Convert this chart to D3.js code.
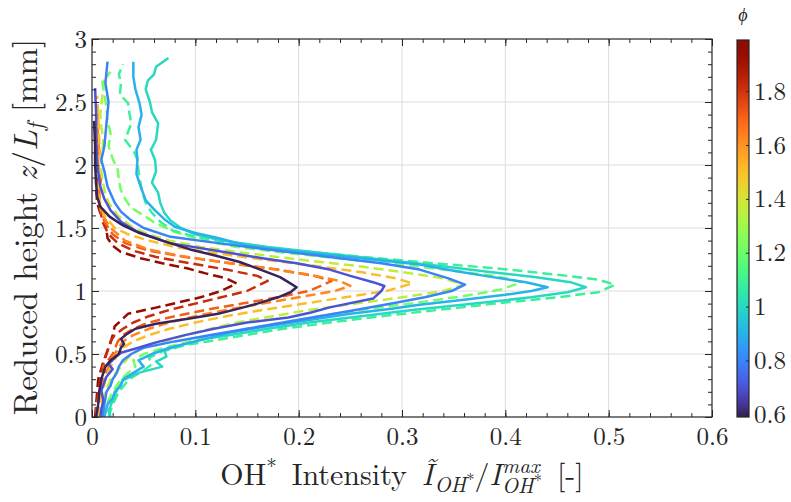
<!DOCTYPE html>
<html>
<head>
<meta charset="utf-8">
<script src="https://cdn.jsdelivr.net/npm/d3@7"></script>
<style>
  body { margin: 0; background: #fff; }
  svg text { white-space: pre; }
</style>
</head>
<body>
<svg id="chart" width="791" height="502"></svg>
<script>
// profiles: [z / L_f, normalised OH* intensity]
const prof060 = [[0,0.004],[0.1,0.006],[0.2,0.007],[0.3,0.009],[0.4,0.013],[0.45,0.018],[0.5,0.026],[0.55,0.028],[0.58,0.031],[0.62,0.028],[0.66,0.034],[0.7,0.042],[0.74,0.062],[0.78,0.093],[0.82,0.122],[0.86,0.142],[0.9,0.16],[0.95,0.18],[0.99,0.192],[1.03,0.198],[1.07,0.19],[1.11,0.182],[1.17,0.163],[1.23,0.143],[1.28,0.12],[1.33,0.095],[1.4,0.068],[1.46,0.046],[1.52,0.03],[1.59,0.017],[1.67,0.008],[1.75,0.005],[1.85,0.004],[2.0,0.003],[2.15,0.003],[2.35,0.002]];
const prof070 = [[0,0.008],[0.06,0.009],[0.13,0.011],[0.21,0.009],[0.32,0.014],[0.38,0.02],[0.42,0.016],[0.47,0.022],[0.51,0.028],[0.55,0.045],[0.59,0.061],[0.65,0.09],[0.7,0.118],[0.75,0.15],[0.79,0.19],[0.83,0.212],[0.87,0.23],[0.94,0.272],[1.0,0.28],[1.04,0.283],[1.07,0.272],[1.12,0.25],[1.17,0.23],[1.22,0.198],[1.26,0.165],[1.31,0.128],[1.38,0.075],[1.47,0.044],[1.55,0.028],[1.64,0.018],[1.73,0.012],[1.83,0.008],[2.0,0.005],[2.2,0.004],[2.4,0.004],[2.61,0.003]];
const prof080 = [[0,0.01],[0.1,0.012],[0.2,0.014],[0.25,0.018],[0.3,0.02],[0.35,0.024],[0.4,0.026],[0.45,0.03],[0.5,0.038],[0.55,0.05],[0.6,0.08],[0.65,0.115],[0.7,0.15],[0.75,0.185],[0.8,0.22],[0.85,0.255],[0.9,0.29],[0.95,0.322],[1.0,0.348],[1.05,0.361],[1.1,0.345],[1.17,0.317],[1.22,0.28],[1.28,0.22],[1.33,0.17],[1.38,0.122],[1.43,0.076],[1.5,0.05],[1.56,0.038],[1.63,0.028],[1.7,0.022],[1.83,0.015],[1.95,0.012],[2.04,0.009],[2.15,0.012],[2.33,0.014],[2.5,0.016],[2.65,0.013],[2.82,0.015]];
const prof090 = [[0,0.012],[0.1,0.015],[0.15,0.02],[0.2,0.022],[0.25,0.028],[0.3,0.03],[0.35,0.04],[0.4,0.05],[0.45,0.045],[0.5,0.058],[0.55,0.075],[0.6,0.1],[0.67,0.134],[0.72,0.17],[0.77,0.21],[0.82,0.25],[0.86,0.29],[0.89,0.317],[0.93,0.36],[0.97,0.4],[1.0,0.425],[1.03,0.441],[1.07,0.42],[1.12,0.38],[1.16,0.35],[1.21,0.317],[1.26,0.26],[1.31,0.2],[1.36,0.15],[1.42,0.122],[1.46,0.1],[1.51,0.08],[1.57,0.07],[1.64,0.061],[1.72,0.052],[1.83,0.047],[1.93,0.043],[2.04,0.044],[2.12,0.043],[2.2,0.047],[2.3,0.045],[2.4,0.048],[2.49,0.046],[2.6,0.042],[2.7,0.04],[2.82,0.04]];
const prof100 = [[0,0.018],[0.05,0.016],[0.13,0.02],[0.21,0.024],[0.29,0.03],[0.35,0.045],[0.4,0.068],[0.44,0.062],[0.48,0.072],[0.53,0.07],[0.58,0.09],[0.62,0.11],[0.65,0.134],[0.7,0.17],[0.75,0.21],[0.8,0.26],[0.85,0.31],[0.9,0.37],[0.95,0.425],[0.99,0.46],[1.03,0.478],[1.07,0.463],[1.11,0.43],[1.15,0.385],[1.2,0.335],[1.25,0.28],[1.3,0.225],[1.35,0.17],[1.4,0.125],[1.45,0.1],[1.5,0.086],[1.56,0.076],[1.62,0.07],[1.7,0.066],[1.78,0.064],[1.86,0.058],[1.95,0.062],[2.04,0.061],[2.12,0.057],[2.2,0.062],[2.33,0.064],[2.42,0.058],[2.5,0.056],[2.6,0.052],[2.67,0.054],[2.72,0.06],[2.78,0.062],[2.85,0.074]];
const prof109 = [[0,0.016],[0.1,0.02],[0.2,0.026],[0.3,0.036],[0.37,0.05],[0.42,0.058],[0.47,0.055],[0.52,0.068],[0.57,0.09],[0.6,0.112],[0.63,0.134],[0.7,0.185],[0.75,0.23],[0.8,0.28],[0.85,0.335],[0.9,0.39],[0.95,0.45],[0.99,0.49],[1.05,0.506],[1.09,0.49],[1.13,0.45],[1.18,0.39],[1.23,0.317],[1.28,0.25],[1.33,0.185],[1.38,0.135],[1.43,0.1],[1.48,0.078],[1.55,0.066],[1.62,0.058],[1.7,0.052],[1.75,0.05],[1.85,0.047],[1.95,0.045],[2.04,0.044],[2.1,0.041],[2.2,0.032],[2.33,0.038],[2.42,0.036],[2.49,0.035],[2.56,0.027],[2.65,0.028],[2.72,0.026],[2.8,0.03]];
const prof122 = [[0,0.01],[0.1,0.014],[0.2,0.02],[0.3,0.028],[0.35,0.035],[0.4,0.042],[0.45,0.04],[0.5,0.05],[0.55,0.07],[0.6,0.095],[0.65,0.12],[0.7,0.15],[0.75,0.185],[0.8,0.22],[0.85,0.26],[0.91,0.317],[0.96,0.36],[1.01,0.395],[1.07,0.416],[1.12,0.39],[1.16,0.35],[1.2,0.31],[1.25,0.25],[1.3,0.19],[1.35,0.14],[1.4,0.108],[1.47,0.08],[1.54,0.061],[1.6,0.05],[1.66,0.038],[1.73,0.032],[1.8,0.028],[1.88,0.026],[1.96,0.025],[2.05,0.02],[2.15,0.016],[2.25,0.018],[2.35,0.015],[2.46,0.014],[2.56,0.012],[2.66,0.01],[2.74,0.018]];
const prof136 = [[0,0.008],[0.1,0.01],[0.2,0.013],[0.3,0.018],[0.4,0.028],[0.5,0.038],[0.55,0.05],[0.6,0.07],[0.65,0.09],[0.7,0.115],[0.75,0.14],[0.8,0.175],[0.85,0.21],[0.9,0.255],[0.95,0.3],[1.0,0.34],[1.05,0.36],[1.1,0.34],[1.15,0.3],[1.2,0.255],[1.25,0.2],[1.3,0.15],[1.35,0.105],[1.4,0.075],[1.45,0.055],[1.5,0.04],[1.6,0.025],[1.7,0.016],[1.8,0.012],[1.9,0.01],[2.0,0.008],[2.1,0.01],[2.2,0.011],[2.3,0.009],[2.4,0.008],[2.55,0.01],[2.68,0.012]];
const prof151 = [[0,0.006],[0.1,0.008],[0.2,0.01],[0.3,0.013],[0.4,0.018],[0.5,0.025],[0.55,0.03],[0.6,0.04],[0.65,0.055],[0.7,0.075],[0.75,0.1],[0.8,0.13],[0.85,0.165],[0.9,0.205],[0.95,0.245],[1.0,0.285],[1.06,0.31],[1.1,0.295],[1.15,0.26],[1.2,0.215],[1.25,0.165],[1.3,0.12],[1.35,0.08],[1.4,0.055],[1.45,0.035],[1.5,0.022],[1.6,0.012],[1.7,0.008],[1.8,0.006],[1.9,0.007],[2.0,0.006],[2.1,0.008],[2.2,0.007],[2.4,0.006],[2.55,0.005]];
const prof163 = [[0,0.005],[0.1,0.007],[0.2,0.009],[0.3,0.012],[0.4,0.016],[0.5,0.022],[0.6,0.03],[0.65,0.04],[0.7,0.055],[0.75,0.075],[0.8,0.1],[0.85,0.13],[0.9,0.165],[0.95,0.2],[1.0,0.235],[1.04,0.25],[1.08,0.24],[1.13,0.21],[1.18,0.17],[1.23,0.125],[1.28,0.085],[1.33,0.055],[1.4,0.032],[1.5,0.018],[1.6,0.01],[1.7,0.007],[1.8,0.006],[1.9,0.008],[2.0,0.005],[2.1,0.007],[2.2,0.006],[2.45,0.005]];
const prof171 = [[0,0.004],[0.1,0.005],[0.2,0.007],[0.3,0.01],[0.35,0.013],[0.4,0.011],[0.5,0.02],[0.6,0.025],[0.65,0.03],[0.7,0.04],[0.75,0.055],[0.8,0.08],[0.85,0.11],[0.9,0.145],[0.95,0.18],[1.0,0.21],[1.08,0.232],[1.12,0.215],[1.17,0.18],[1.22,0.135],[1.27,0.09],[1.32,0.055],[1.38,0.032],[1.45,0.02],[1.55,0.012],[1.65,0.008],[1.8,0.007],[1.9,0.009],[2.0,0.006],[2.2,0.005],[2.4,0.004]];
const prof182 = [[0,0.004],[0.1,0.005],[0.2,0.006],[0.3,0.008],[0.4,0.01],[0.5,0.014],[0.6,0.018],[0.65,0.022],[0.7,0.03],[0.75,0.04],[0.8,0.055],[0.85,0.075],[0.9,0.1],[0.95,0.125],[1.0,0.15],[1.08,0.17],[1.12,0.16],[1.17,0.13],[1.22,0.095],[1.27,0.062],[1.32,0.04],[1.38,0.025],[1.45,0.016],[1.55,0.01],[1.7,0.007],[1.9,0.005],[2.1,0.005],[2.3,0.004]];
const prof195 = [[0,0.003],[0.1,0.004],[0.2,0.005],[0.3,0.006],[0.44,0.011],[0.59,0.018],[0.65,0.02],[0.72,0.022],[0.78,0.03],[0.82,0.035],[0.87,0.063],[0.95,0.105],[1.0,0.125],[1.06,0.14],[1.1,0.13],[1.14,0.11],[1.18,0.092],[1.22,0.068],[1.26,0.047],[1.31,0.028],[1.36,0.02],[1.42,0.015],[1.49,0.014],[1.56,0.013],[1.62,0.008],[1.7,0.005],[1.8,0.004],[2.0,0.004],[2.2,0.004]];

// drawn from rich to lean so the lean solid lines sit on top
const phiValues = [1.95, 1.82, 1.71, 1.63, 1.51, 1.36, 1.22, 1.09, 1.0, 0.9, 0.8, 0.7, 0.6];
const dashed    = [true, true, true, true, true, true, true, true, false, false, false, false, false];
const profiles  = [prof195, prof182, prof171, prof163, prof151, prof136, prof122, prof109, prof100, prof090, prof080, prof070, prof060];

const phiRange = [0.59, 1.99];
const xTicks = [0, 0.1, 0.2, 0.3, 0.4, 0.5, 0.6];
const yTicks = [0, 0.5, 1, 1.5, 2, 2.5, 3];
const cbTicks = [0.6, 0.8, 1, 1.2, 1.4, 1.6, 1.8];

const svg = d3.select("#chart");
const ink = "#262626";
const lm = '"Latin Modern Roman"';
const m = { left: 92, right: 712, top: 39, bottom: 417 };

const x = d3.scaleLinear().domain([0, 0.6]).range([m.left, m.right]);
const y = d3.scaleLinear().domain([0, 3]).range([m.bottom, m.top]);
// d3's turbo starts almost black; shift a touch so the low end is dark purple like the original map
const turbo = t => d3.interpolateTurbo(0.015 + 0.985 * t);
const color = p => turbo((p - phiRange[0]) / (phiRange[1] - phiRange[0]));

const xMinor = d3.range(0, 0.6001, 0.02);
const yMinor = d3.range(0, 3.0001, 0.1);

// grid
const grid = svg.append("g").attr("stroke", "#dcdcdc").attr("stroke-width", 1);
grid.selectAll(".gx").data(xTicks.slice(1, -1)).join("line")
  .attr("x1", d => x(d)).attr("x2", d => x(d)).attr("y1", m.top).attr("y2", m.bottom);
grid.selectAll(".gy").data(yTicks.slice(1, -1)).join("line")
  .attr("y1", d => y(d)).attr("y2", d => y(d)).attr("x1", m.left).attr("x2", m.right);

// lines
svg.append("clipPath").attr("id", "clip").append("rect")
  .attr("x", m.left).attr("y", m.top).attr("width", m.right - m.left).attr("height", m.bottom - m.top);

const line = d3.line().x(d => x(d[1])).y(d => y(d[0]));
svg.append("g").attr("clip-path", "url(#clip)")
  .selectAll("path").data(profiles).join("path")
  .attr("d", line)
  .attr("fill", "none")
  .attr("stroke", (d, i) => color(phiValues[i]))
  .attr("stroke-width", 2.5)
  .attr("stroke-linejoin", "round")
  .attr("stroke-dasharray", (d, i) => dashed[i] ? "10,5" : null);

// axes, ticks inward on all four sides
function styleAxis(g) {
  g.attr("font-size", null).attr("font-family", null);
  g.select(".domain").remove();
  g.selectAll("line").attr("stroke", ink);
  g.selectAll("text").attr("fill", ink).style("font-size", "25px").style("font-family", lm);
}
const fmt = d3.format("~g");

svg.append("g").attr("transform", `translate(0,${m.bottom})`)
  .call(d3.axisBottom(x).tickValues(xMinor).tickSize(-4).tickFormat("")).call(styleAxis);
svg.append("g").attr("transform", `translate(0,${m.bottom})`)
  .call(d3.axisBottom(x).tickValues(xTicks).tickSize(-7).tickPadding(10).tickFormat(fmt)).call(styleAxis);
svg.append("g").attr("transform", `translate(0,${m.top})`)
  .call(d3.axisTop(x).tickValues(xMinor).tickSize(-4).tickFormat("")).call(styleAxis);
svg.append("g").attr("transform", `translate(0,${m.top})`)
  .call(d3.axisTop(x).tickValues(xTicks).tickSize(-7).tickFormat("")).call(styleAxis);

svg.append("g").attr("transform", `translate(${m.left},0)`)
  .call(d3.axisLeft(y).tickValues(yMinor).tickSize(-4).tickFormat("")).call(styleAxis);
svg.append("g").attr("transform", `translate(${m.left},0)`)
  .call(d3.axisLeft(y).tickValues(yTicks).tickSize(-7).tickPadding(5).tickFormat(fmt)).call(styleAxis);
svg.append("g").attr("transform", `translate(${m.right},0)`)
  .call(d3.axisRight(y).tickValues(yMinor).tickSize(-4).tickFormat("")).call(styleAxis);
svg.append("g").attr("transform", `translate(${m.right},0)`)
  .call(d3.axisRight(y).tickValues(yTicks).tickSize(-7).tickFormat("")).call(styleAxis);

svg.append("rect")
  .attr("x", m.left).attr("y", m.top).attr("width", m.right - m.left).attr("height", m.bottom - m.top)
  .attr("fill", "none").attr("stroke", ink).attr("stroke-width", 1.2);

// colorbar
const cb = { x: 737, w: 12, top: 40, bottom: 417 };
const cbScale = d3.scaleLinear().domain(phiRange).range([cb.bottom, cb.top]);
const grad = svg.append("defs").append("linearGradient").attr("id", "turbo")
  .attr("x1", 0).attr("y1", 1).attr("x2", 0).attr("y2", 0);
grad.selectAll("stop").data(d3.range(0, 1.0001, 0.02)).join("stop")
  .attr("offset", d => d).attr("stop-color", d => turbo(d));
svg.append("rect").attr("x", cb.x).attr("y", cb.top).attr("width", cb.w).attr("height", cb.bottom - cb.top)
  .attr("fill", "url(#turbo)").attr("stroke", ink).attr("stroke-width", 1.2);
svg.append("g").attr("transform", `translate(${cb.x + cb.w},0)`)
  .call(d3.axisRight(cbScale).tickValues(cbTicks).tickSize(-3).tickPadding(5).tickFormat(fmt)).call(styleAxis);
svg.append("text").attr("x", cb.x + cb.w / 2).attr("y", 21).attr("text-anchor", "middle")
  .style("font-family", lm).style("font-size", "18px").style("font-style", "italic")
  .attr("fill", ink).text("ϕ");

// axis titles
svg.append("text")
  .attr("transform", `translate(37,227) rotate(-90)`)
  .attr("text-anchor", "middle").attr("fill", ink)
  .style("font-family", lm).style("font-size", "33px")
  .call(t => {
    t.append("tspan").text("Reduced height ");
    t.append("tspan").style("font-style", "italic").text("z");
    t.append("tspan").text("/");
    t.append("tspan").style("font-style", "italic").text("L");
    t.append("tspan").style("font-style", "italic").style("font-size", "23px").attr("dy", 6).text("f");
    t.append("tspan").attr("dy", -6).text(" [mm]");
  });

// x title laid out piece by piece (stacked super/subscripts)
function layout(g, parts, size) {
  let cx = 0;
  parts.forEach(p => {
    const rows = p.stack || [[p]];
    let w = 0;
    rows.forEach(row => {
      let rx = cx;
      row.forEach(q => {
        const t = g.append("text").attr("x", rx).attr("y", q.dy || 0).attr("fill", ink)
          .style("font-family", lm)
          .style("font-size", (size * (q.scale || 1)) + "px")
          .style("font-style", q.it ? "italic" : "normal")
          .text(q.t);
        rx += t.node().getComputedTextLength() + (q.pad || 0);
      });
      w = Math.max(w, rx - cx);
    });
    cx += w;
  });
  return cx;
}
const xt = svg.append("g");
const xtWidth = layout(xt, [
  { t: "OH" }, { t: "*", scale: 0.7, dy: -11 }, { t: "\u00a0Intensity\u00a0" },
  { t: "Ĩ", it: true, pad: 1 },
  { stack: [[{ t: "OH", it: true, scale: 0.7, dy: 7 }, { t: "*", scale: 0.55, dy: 0 }]] },
  { t: "/" }, { t: "I", it: true, pad: 1 },
  { stack: [[{ t: "max", it: true, scale: 0.7, dy: -12 }],
            [{ t: "OH", it: true, scale: 0.7, dy: 8 }, { t: "*", scale: 0.55, dy: 1 }]] },
  { t: "\u00a0[-]", pad: 0 }
], 30);
xt.attr("transform", `translate(${402 - xtWidth / 2},485)`);
</script>
</body>
</html>
